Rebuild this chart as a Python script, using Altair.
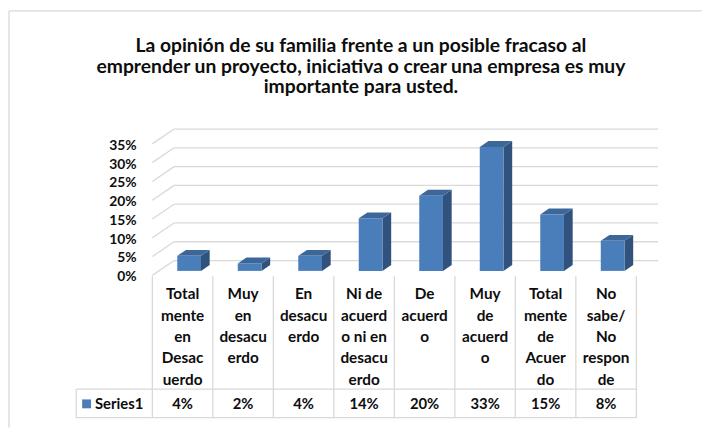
import altair as alt
import pandas as pd

# ---------------- data ----------------
title_lines = [
    "La opinión de su familia frente a un posible fracaso al",
    "emprender un proyecto, iniciativa o crear una empresa es muy",
    "importante para usted.",
]
categories = [
    "Totalmente en Desacuerdo", "Muy en desacuerdo", "En desacuerdo",
    "Ni de acuerdo ni en desacuerdo", "De acuerdo", "Muy de acuerdo",
    "Totalmente de Acuerdo", "No sabe/No responde",
]
category_lines = [
    ["Total", "mente", "en", "Desac", "uerdo"],
    ["Muy", "en", "desacu", "erdo"],
    ["En", "desacu", "erdo"],
    ["Ni de", "acuerd", "o ni en", "desacu", "erdo"],
    ["De", "acuerd", "o"],
    ["Muy", "de", "acuerd", "o"],
    ["Total", "mente", "de", "Acuer", "do"],
    ["No", "sabe/", "No", "respon", "de"],
]
values = [4, 2, 4, 14, 20, 33, 15, 8]
value_labels = ["4%", "2%", "4%", "14%", "20%", "33%", "15%", "8%"]
series_name = "Series1"
y_ticks = [0, 5, 10, 15, 20, 25, 30, 35]
y_tick_labels = ["0%", "5%", "10%", "15%", "20%", "25%", "30%", "35%"]

# ---------------- layout ----------------
W, H, M = 694, 414, 8
X0, CW = 154.0, 61.2      # front-left of plot (page px), column width
Y0, KY = 276.0, 3.8       # front 0% (page px), px per percent
DXPX, DYPX = 22.0, 15.0   # 3D depth offset
FONT = "Lato"
TXT = "#0D0D0D"
GRID = "#D9D9D9"
FRONT, TOP, SIDE = "#4A7EBB", "#3D6699", "#30527D"

def u(xp):
    return (xp - X0) / CW

def p(yp):
    return (Y0 - yp) / KY

DXU, DYP = DXPX / CW, DYPX / KY
BWU = 24.0 / CW
F0, F1 = 0.3, 0.7

xs = alt.Scale(domain=[u(M), u(M + W)], range=[0, W], nice=False, zero=False)
ys = alt.Scale(domain=[p(M + H), p(M)], range=[H, 0], nice=False, zero=False)

def X(f):
    return alt.X(f, type="quantitative", scale=xs, axis=None)

def Y(f):
    return alt.Y(f, type="quantitative", scale=ys, axis=None)

n = len(values)

# gridlines (left wall diagonal + back wall)
grid_rows = []
for t in y_ticks:
    grid_rows.append(dict(x=0.0, x2=DXU, y=t, y2=t + DYP))
    grid_rows.append(dict(x=DXU, x2=n + DXU, y=t + DYP, y2=t + DYP))
grid = alt.Chart(pd.DataFrame(grid_rows)).mark_rule(color=GRID, strokeWidth=1.3).encode(
    x=X("x"), x2="x2", y=Y("y"), y2="y2")

# bars
front_rows, side_rows, top_rows = [], [], []
for i, v in enumerate(values):
    xl = i + 0.5 - BWU / 2 + F0 * DXU
    xr = xl + BWU
    yb = F0 * DYP
    yt = v + F0 * DYP
    d_x, d_y = (F1 - F0) * DXU, (F1 - F0) * DYP
    front_rows.append(dict(bar=i, x=xl, x2=xr, y=yb, y2=yt))
    side_rows += [dict(bar=i, x=xr, y=yb, y2=yt),
                  dict(bar=i, x=xr + d_x, y=yb + d_y, y2=yt + d_y)]
    top_rows += [dict(bar=i, y=yt, x=xl, x2=xr),
                 dict(bar=i, y=yt + d_y, x=xl + d_x, x2=xr + d_x)]

front = alt.Chart(pd.DataFrame(front_rows)).mark_rect(color=FRONT).encode(
    x=X("x"), x2="x2", y=Y("y"), y2="y2")
side = alt.Chart(pd.DataFrame(side_rows)).mark_area(color=SIDE, opacity=1).encode(
    x=X("x"), y=Y("y"), y2="y2", detail="bar:N")
top = alt.Chart(pd.DataFrame(top_rows)).mark_area(color=TOP, opacity=1, orient="horizontal").encode(
    y=Y("y"), x=X("x"), x2="x2", detail="bar:N")

# y-axis labels
ylab = alt.Chart(pd.DataFrame(dict(t=y_ticks, lab=y_tick_labels, x=[u(138)] * len(y_ticks)))).mark_text(
    font=FONT, fontSize=14, fontWeight="bold", color=TXT, align="right", baseline="middle", dy=2
).encode(x=X("x"), y=Y("t"), text="lab:N")

# data table lines
tl = []
for k in range(n + 1):
    tl.append(dict(x=float(k), x2=float(k), y=p(277), y2=p(420)))
tl.append(dict(x=u(77), x2=u(77), y=p(391), y2=p(420)))
tl.append(dict(x=u(77), x2=float(n), y=p(391), y2=p(391)))
tl.append(dict(x=u(77), x2=float(n), y=p(420), y2=p(420)))
# chart frame
tl.append(dict(x=u(9), x2=u(9), y=p(8.5), y2=p(430)))
tl.append(dict(x=u(9), x2=u(712), y=p(8.5), y2=p(8.5)))
table_lines = alt.Chart(pd.DataFrame(tl)).mark_rule(color=GRID, strokeWidth=1.3).encode(
    x=X("x"), x2="x2", y=Y("y"), y2="y2")

cat_df = pd.DataFrame(dict(
    cat=categories,
    lab=["\n".join(l) for l in category_lines],
    x=[i + 0.5 for i in range(n)],
    y=[p(300)] * n,
    val=value_labels,
    yv=[p(406)] * n,
))
cat_text = alt.Chart(cat_df).mark_text(
    font=FONT, fontSize=15.5, fontWeight="bold", color=TXT, align="center",
    baseline="alphabetic", lineBreak="\n", lineHeight=21.7
).encode(x=X("x"), y=Y("y"), text="lab:N")
val_text = alt.Chart(cat_df).mark_text(
    font=FONT, fontSize=15, fontWeight="bold", color=TXT, align="center", baseline="middle"
).encode(x=X("x"), y=Y("yv"), text="val:N")

legend_sq = alt.Chart(pd.DataFrame(dict(x=[u(83)], x2=[u(92)], y=[p(401.5)], y2=[p(410.5)]))).mark_rect(
    color=FRONT).encode(x=X("x"), x2="x2", y=Y("y"), y2="y2")
legend_txt = alt.Chart(pd.DataFrame(dict(x=[u(96)], y=[p(406)], t=[series_name]))).mark_text(
    font=FONT, fontSize=15, fontWeight="bold", color=TXT, align="left", baseline="middle"
).encode(x=X("x"), y=Y("y"), text="t:N")

title_df = pd.DataFrame(dict(t=title_lines, x=[u(365)] * 3, y=[p(50), p(71), p(92)]))
title = alt.Chart(title_df).mark_text(
    font=FONT, fontSize=19.5, fontWeight="bold", color=TXT, align="center", baseline="alphabetic"
).encode(x=X("x"), y=Y("y"), text="t:N")

chart = alt.layer(
    grid, table_lines, side, top, front, ylab, cat_text, val_text, legend_sq, legend_txt, title
).properties(
    width=W, height=H,
    autosize=alt.AutoSizeParams(type="none"),
    padding={"left": 0, "top": 0, "right": 8, "bottom": 8},
).configure_view(stroke=None)

chart.save("out.html", embed_options={"renderer": "svg", "actions": False})
